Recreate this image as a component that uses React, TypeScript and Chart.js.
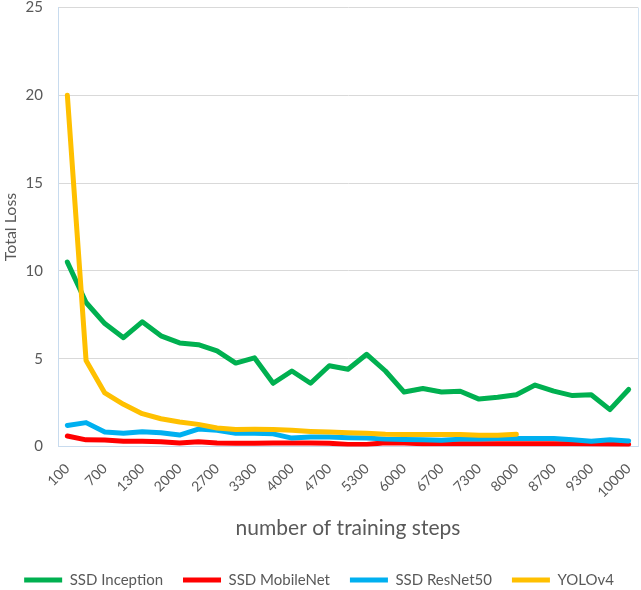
import React, { useEffect, useRef } from "react";
import { Chart, registerables } from "chart.js";

Chart.register(...registerables);

const steps = [
  "100", "400", "700", "1000", "1300", "1700", "2000", "2300", "2700", "3000",
  "3300", "3700", "4000", "4300", "4700", "5000", "5300", "5700", "6000", "6300",
  "6700", "7000", "7300", "7700", "8000", "8300", "8700", "9000", "9300", "9700", "10000",
];

const ssdInception = [
  10.5, 8.2, 7.0, 6.2, 7.1, 6.3, 5.9, 5.8, 5.45, 4.75,
  5.05, 3.6, 4.3, 3.6, 4.6, 4.4, 5.25, 4.3, 3.1, 3.3,
  3.1, 3.15, 2.7, 2.8, 2.95, 3.5, 3.15, 2.9, 2.95, 2.1, 3.25,
];

const ssdMobileNet = [
  0.6, 0.38, 0.37, 0.3, 0.3, 0.27, 0.2, 0.27, 0.2, 0.18,
  0.18, 0.2, 0.2, 0.2, 0.18, 0.12, 0.12, 0.22, 0.2, 0.15,
  0.15, 0.15, 0.15, 0.15, 0.15, 0.15, 0.15, 0.15, 0.14, 0.13, 0.12,
];

const ssdResNet50 = [
  1.2, 1.36, 0.82, 0.76, 0.84, 0.78, 0.65, 0.99, 0.92, 0.76,
  0.75, 0.72, 0.48, 0.54, 0.54, 0.5, 0.48, 0.42, 0.4, 0.38,
  0.36, 0.42, 0.42, 0.45, 0.45, 0.45, 0.45, 0.38, 0.3, 0.38, 0.32,
];

const yolov4 = [
  20, 4.9, 3.05, 2.4, 1.87, 1.58, 1.4, 1.26, 1.05, 0.97,
  0.98, 0.97, 0.92, 0.86, 0.82, 0.78, 0.76, 0.7, 0.68, 0.68,
  0.69, 0.68, 0.64, 0.64, 0.7, null, null, null, null, null, null,
];

const yTicks = [0, 5, 10, 15, 20, 25];

const seriesNames = ["SSD Inception", "SSD MobileNet", "SSD ResNet50", "YOLOv4"];
const seriesColors = ["#00b050", "#ff0000", "#00b0f0", "#ffc000"];

const rightBorder = {
  id: "rightBorder",
  afterDraw(chart: any) {
    const { ctx, chartArea } = chart;
    ctx.save();
    ctx.strokeStyle = "#d2e3f3";
    ctx.lineWidth = 1;
    ctx.beginPath();
    ctx.moveTo(chartArea.right + 0.5, chartArea.top);
    ctx.lineTo(chartArea.right + 0.5, chartArea.bottom);
    ctx.stroke();
    ctx.restore();
  },
};

export default function App() {
  const ref = useRef<HTMLCanvasElement | null>(null);

  useEffect(() => {
    if (!ref.current) return;
    Chart.defaults.font.family = "Lato";
    const all = [ssdInception, ssdMobileNet, ssdResNet50, yolov4];
    const orders = [3, 2, 1, 0];
    const chart = new Chart(ref.current, {
      type: "line",
      data: {
        labels: steps,
        datasets: all.map((d, i) => ({
          label: seriesNames[i],
          data: d,
          borderColor: seriesColors[i],
          backgroundColor: seriesColors[i],
          borderWidth: 5,
          pointRadius: 0,
          pointHoverRadius: 0,
          tension: 0,
          fill: false,
          spanGaps: false,
          borderJoinStyle: "round",
          borderCapStyle: "round",
          order: orders[i],
        })),
      },
      options: {
        responsive: false,
        animation: false,
        layout: { padding: { left: 0, right: 3, top: 0, bottom: -7.5 } },
        plugins: {
          tooltip: { enabled: false },
          legend: {
            position: "bottom",
            labels: {
              usePointStyle: true,
              pointStyle: "line",
              pointStyleWidth: 38,
              padding: 20,
              color: "#595959",
              font: { size: 15, family: "Lato" },
              sort: (a: any, b: any) => a.datasetIndex - b.datasetIndex,
            },
          },
        },
        scales: {
          x: {
            offset: true,
            grid: {
              display: true,
              color: "rgba(0,0,0,0)",
              drawTicks: true,
              tickLength: 14,
              tickColor: "rgba(0,0,0,0)",
            },
            border: { display: true, color: "#c8dbee", width: 1 },
            afterFit: (scale: any) => {
              scale.height = 106;
            },
            ticks: {
              autoSkip: false,
              minRotation: 45,
              maxRotation: 45,
              padding: 0,
              color: "#595959",
              font: { size: 14, family: "Lato" },
              callback: (_v: any, i: number) => (i % 2 === 0 ? steps[i] : ""),
            },
            title: {
              display: true,
              text: "number of training steps",
              color: "#595959",
              font: { size: 21, family: "Lato" },
              padding: { top: 0, bottom: 12 },
            },
          },
          y: {
            min: 0,
            max: 25,
            afterBuildTicks: (axis: any) => {
              axis.ticks = yTicks.map((v) => ({ value: v }));
            },
            afterFit: (scale: any) => {
              scale.width = 58;
            },
            grid: {
              color: "#d9d9d9",
              lineWidth: 1,
              drawTicks: true,
              tickLength: 15,
              tickColor: "rgba(0,0,0,0)",
            },
            border: { display: true, color: "#c8dbee", width: 1 },
            ticks: {
              padding: 0,
              color: "#595959",
              font: { size: 15, family: "Lato", lineHeight: 1 },
            },
            title: {
              display: true,
              text: "Total Loss",
              color: "#595959",
              font: { size: 16, family: "Lato" },
              padding: { top: 1, bottom: 5 },
            },
          },
        },
      },
      plugins: [rightBorder],
    });
    return () => chart.destroy();
  }, []);

  return (
    <div style={{ position: "fixed", left: 0, top: 0, width: 641, height: 590, background: "#fff" }}>
      <canvas ref={ref} width={641} height={590} style={{ width: 641, height: 590, display: "block" }} />
    </div>
  );
}
